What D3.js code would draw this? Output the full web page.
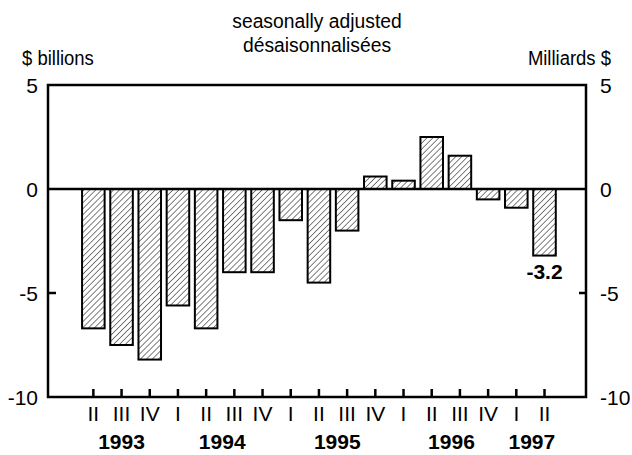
<!DOCTYPE html>
<html>
<head>
<meta charset="utf-8">
<script src="https://cdn.jsdelivr.net/npm/d3@7"></script>
<style>
  body { margin: 0; background: #fff; }
  svg { display: block; }
  text { font-family: "Liberation Sans", Arial, sans-serif; fill: #000; }
</style>
</head>
<body>
<svg id="chart" width="632" height="455"></svg>
<script>
// Data
const quarters = ["II","III","IV","I","II","III","IV","I","II","III","IV","I","II","III","IV","I","II"];
const years    = [1993,1993,1993,1994,1994,1994,1994,1995,1995,1995,1995,1996,1996,1996,1996,1997,1997];
const values   = [-6.7,-7.5,-8.2,-5.6,-6.7,-4.0,-4.0,-1.5,-4.5,-2.0,0.6,0.4,2.5,1.6,-0.5,-0.9,-3.2];
const yearLabels = [
  { year: "1993", at: 1.0 },
  { year: "1994", at: 4.57 },
  { year: "1995", at: 8.65 },
  { year: "1996", at: 12.7 },
  { year: "1997", at: 15.55 }
];
const yTicks = [5, 0, -5, -10];
const lastLabel = "-3.2";

const svg = d3.select("#chart");
const L = 48, R = 586, T = 85, B = 397;
const FS = 21;

const keys = values.map((d, i) => i);
const x = d3.scaleBand().domain(keys).range([L, R]).paddingInner(0.2).paddingOuter(1.14).align(0.53);
const y = d3.scaleLinear().domain([-10, 5]).range([B, T]);

// hatch pattern
const defs = svg.append("defs");
const pat = defs.append("pattern")
  .attr("id", "hatch").attr("patternUnits", "userSpaceOnUse")
  .attr("width", 4.2).attr("height", 4.2)
  .attr("patternTransform", "rotate(45)");
pat.append("rect").attr("width", 4.2).attr("height", 4.2).attr("fill", "#fff");
pat.append("line").attr("x1", 0).attr("y1", 0).attr("x2", 0).attr("y2", 4.2)
  .attr("stroke", "#000").attr("stroke-width", 1);

// bars
svg.append("g").selectAll("rect").data(values).join("rect")
  .attr("x", (d, i) => x(i))
  .attr("width", x.bandwidth())
  .attr("y", d => y(Math.max(0, d)))
  .attr("height", d => Math.abs(y(d) - y(0)))
  .attr("fill", "url(#hatch)")
  .attr("stroke", "#000").attr("stroke-width", 2);

// frame
svg.append("rect").attr("x", L).attr("y", T).attr("width", R - L).attr("height", B - T)
  .attr("fill", "none").attr("stroke", "#000").attr("stroke-width", 2.5);

// zero line
svg.append("line").attr("x1", L).attr("x2", R).attr("y1", y(0)).attr("y2", y(0))
  .attr("stroke", "#000").attr("stroke-width", 2.5);

// -5 ticks inward
svg.append("line").attr("x1", L).attr("x2", L + 8).attr("y1", y(-5)).attr("y2", y(-5))
  .attr("stroke", "#000").attr("stroke-width", 2.5);
svg.append("line").attr("x1", R - 7).attr("x2", R).attr("y1", y(-5)).attr("y2", y(-5))
  .attr("stroke", "#000").attr("stroke-width", 2.5);

// bottom ticks
svg.append("g").selectAll("line").data(keys).join("line")
  .attr("x1", i => x(i) + x.bandwidth() / 2).attr("x2", i => x(i) + x.bandwidth() / 2)
  .attr("y1", B).attr("y2", B - 8)
  .attr("stroke", "#000").attr("stroke-width", 2.5);

// y tick labels
svg.append("g").selectAll("text").data(yTicks).join("text")
  .attr("x", 38).attr("y", d => y(d) + 7.5)
  .attr("text-anchor", "end").attr("font-size", FS).text(d => d);
svg.append("g").selectAll("text").data(yTicks).join("text")
  .attr("x", 600).attr("y", d => y(d) + 7.5)
  .attr("text-anchor", "start").attr("font-size", FS).text(d => d);

// quarter labels
svg.append("g").selectAll("text").data(quarters).join("text")
  .attr("x", (d, i) => x(i) + x.bandwidth() / 2).attr("y", 421)
  .attr("text-anchor", "middle").attr("font-size", FS).text(d => d);

// year labels
const step = x.step();
svg.append("g").selectAll("text").data(yearLabels).join("text")
  .attr("x", d => x(0) + x.bandwidth() / 2 + d.at * step).attr("y", 449)
  .attr("text-anchor", "middle").attr("font-size", FS).attr("font-weight", "bold").text(d => d.year);

// value label for last bar
const li = values.length - 1;
svg.append("text").attr("x", x(li) + x.bandwidth() / 2).attr("y", y(values[li]) + 23)
  .attr("text-anchor", "middle").attr("font-size", FS).attr("font-weight", "bold").text(lastLabel);

// titles (slightly condensed)
function header(txt, px, py, anchor, sx) {
  svg.append("text").attr("transform", `translate(${px},${py}) scale(${sx},1)`)
    .attr("text-anchor", anchor).attr("font-size", FS).text(txt);
}
header("seasonally adjusted", 317, 28, "middle", 0.92);
header("désaisonnalisées", 317, 52, "middle", 0.92);
header("$ billions", 22, 65, "start", 0.88);
header("Milliards $", 611, 65, "end", 0.88);
</script>
</body>
</html>
